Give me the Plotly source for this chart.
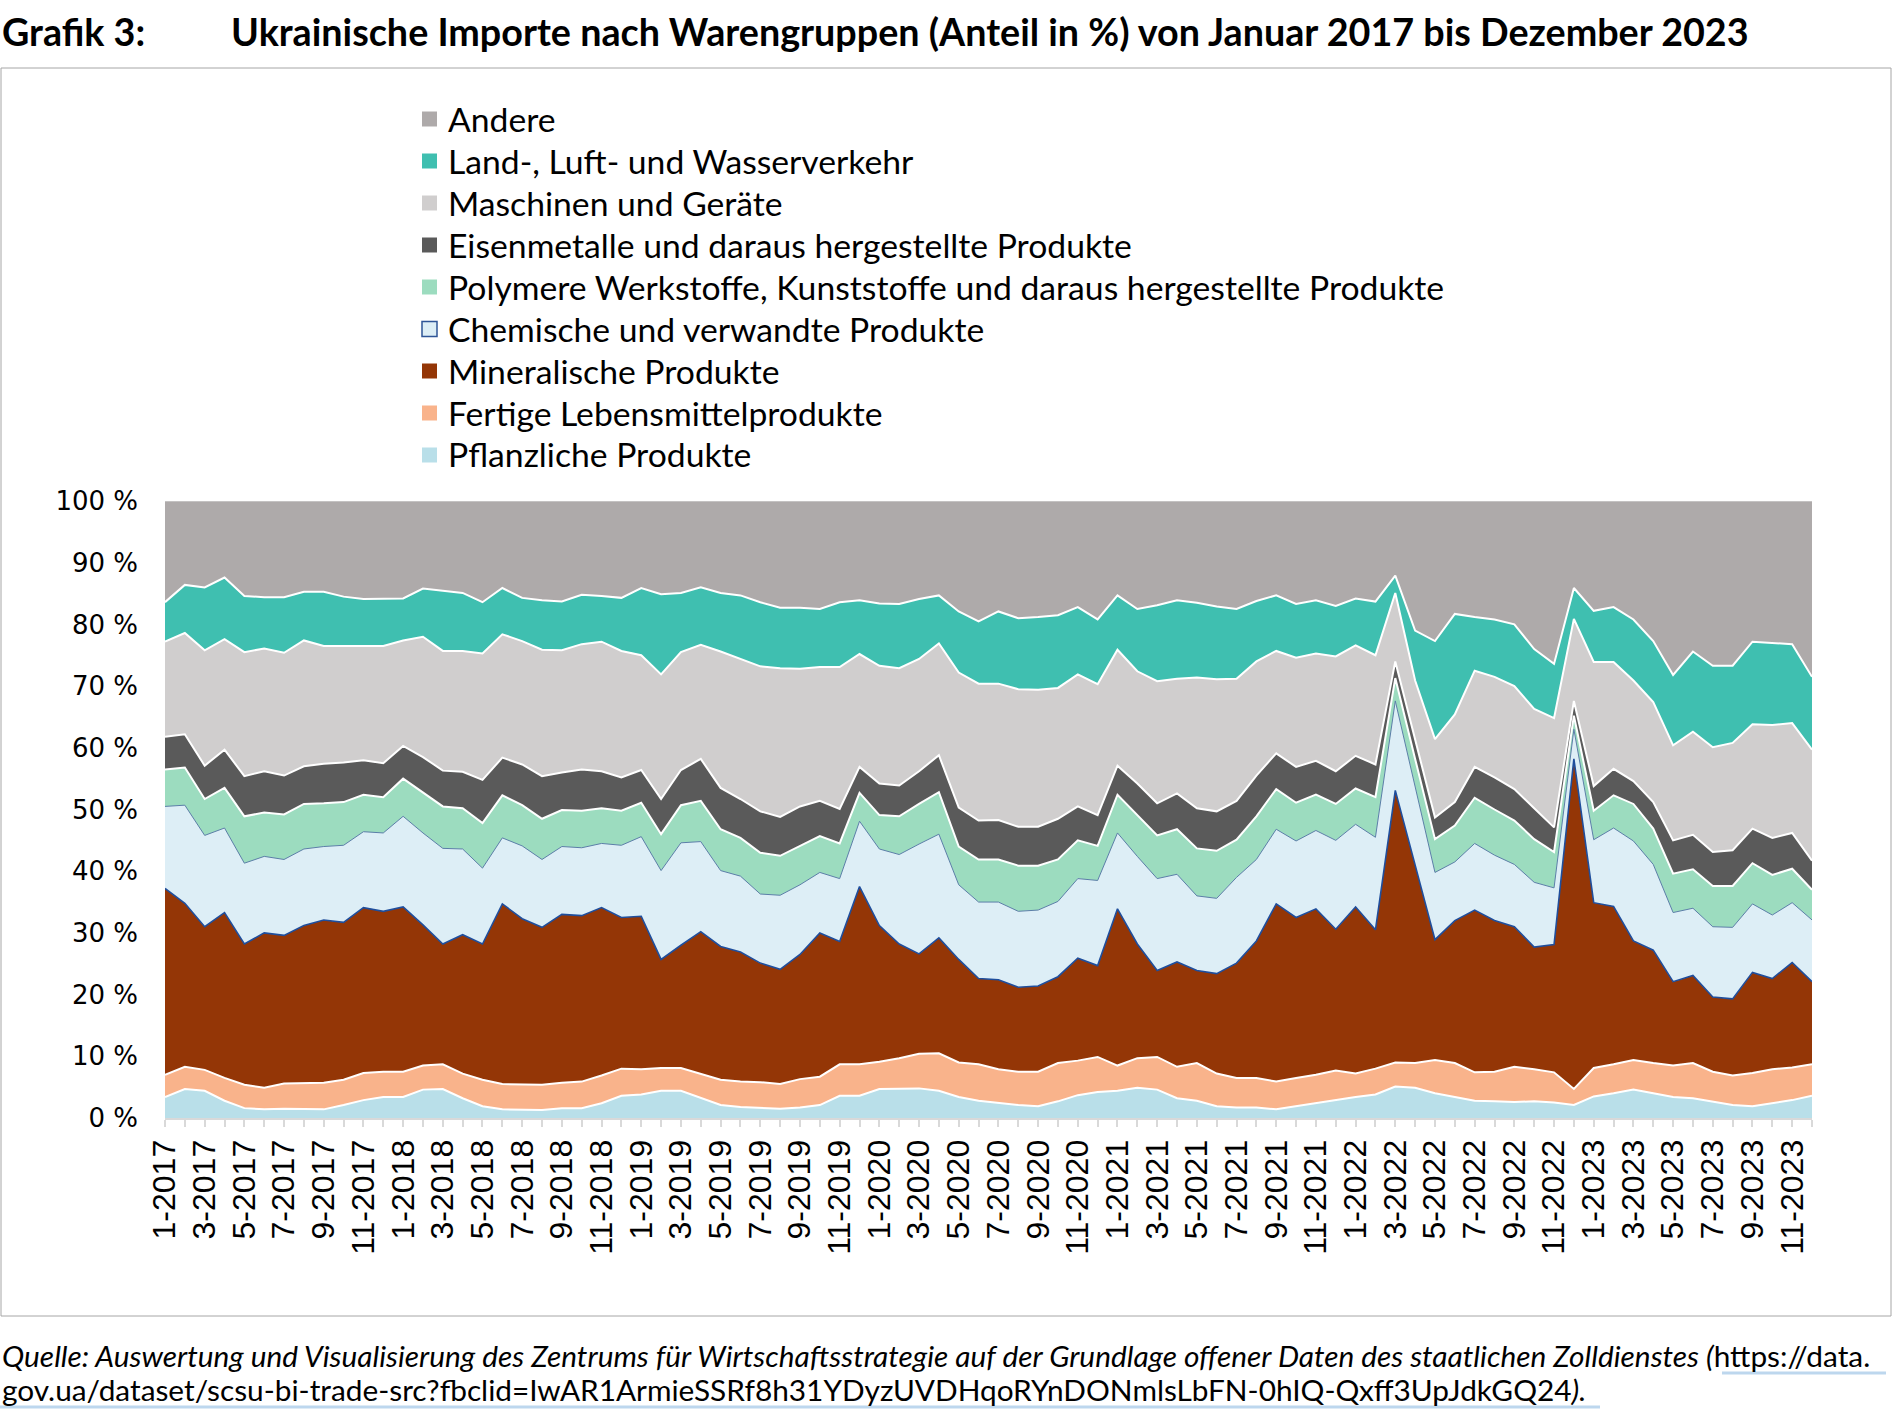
import plotly.graph_objects as go

months = [f"{m}-{y}" for y in range(2017, 2024) for m in range(1, 13)]
tick_text = [lab if i % 2 == 0 else "" for i, lab in enumerate(months)]

pflanzliche = [3.4,4.7,4.4,2.8,1.6,1.4,1.5,1.5,1.4,2.1,2.9,3.4,
               3.4,4.6,4.7,3.2,1.9,1.4,1.4,1.3,1.6,1.6,2.4,3.6,
               3.8,4.4,4.4,3.2,2.1,1.8,1.7,1.5,1.7,2.1,3.6,3.6,
               4.7,4.7,4.8,4.4,3.4,2.8,2.4,2.1,1.9,2.7,3.7,4.2,
               4.4,4.9,4.6,3.2,2.8,1.9,1.7,1.7,1.4,1.9,2.4,3.0,
               3.4,3.8,5.1,4.9,4.0,3.4,2.8,2.7,2.6,2.7,2.5,2.1,
               3.5,4.0,4.6,4.0,3.4,3.2,2.6,2.1,1.9,2.4,2.9,3.6]
lebensmittel = [3.6,3.6,3.4,3.7,3.8,3.5,4.1,4.1,4.3,4.1,4.4,4.1,
                4.1,3.9,4.0,4.0,4.3,4.1,4.1,4.1,4.1,4.3,4.5,4.4,
                4.1,3.7,3.7,4.0,4.1,4.1,4.1,4.0,4.6,4.6,5.1,5.1,
                4.4,5.0,5.6,6.1,5.6,5.9,5.5,5.4,5.6,6.2,5.6,5.7,
                4.1,4.8,5.3,5.1,6.1,5.3,4.8,4.8,4.5,4.6,4.6,4.7,
                3.8,4.2,3.9,4.0,5.4,5.5,4.6,4.8,5.7,5.2,4.9,2.6,
                4.6,4.7,4.8,4.9,5.1,5.7,4.9,4.8,5.4,5.5,5.3,5.1]
mineralische = [30.2,26.5,23.2,26.8,22.8,25.1,24.0,25.6,26.4,25.5,26.8,26.0,
                26.7,22.8,19.5,22.5,22.0,29.2,26.8,25.5,27.3,26.9,27.2,24.5,
                24.8,17.6,19.9,23.0,21.6,21.0,19.3,18.6,20.2,23.3,19.9,28.8,
                22.1,18.5,16.2,18.7,16.7,13.9,14.5,13.7,13.9,14.0,16.6,14.8,
                25.4,18.5,14.0,17.0,15.0,16.2,18.6,22.2,28.8,26.0,26.9,22.9,
                27.0,22.5,44.1,32.1,19.5,23.1,26.3,24.5,22.7,19.8,20.7,53.5,
                26.8,25.6,19.3,18.3,13.6,14.2,12.1,12.4,16.3,14.7,17.0,13.4]
chemische = [13.3,15.9,14.8,13.7,13.1,12.4,12.3,12.4,11.9,12.5,12.3,12.7,
             14.7,14.9,15.5,13.9,12.3,10.7,11.8,11.0,11.0,11.0,10.4,11.7,
             12.9,14.4,16.6,14.6,12.3,12.3,11.2,12.0,11.3,9.8,10.2,10.6,
             12.4,14.5,17.8,16.8,12.1,12.4,12.6,12.3,12.3,12.2,12.9,13.8,
             12.3,14.2,14.9,14.2,12.1,12.2,13.9,13.2,12.1,12.4,12.7,14.4,
             13.4,15.0,14.5,12.6,10.9,9.5,10.8,10.6,10.1,10.5,9.2,4.8,
             10.2,12.7,16.2,13.9,11.2,10.9,11.4,11.6,11.1,10.3,9.7,10.0]
polymere = [6.0,6.1,5.9,6.5,7.6,7.1,7.3,7.3,7.0,7.0,6.0,5.8,
            6.1,6.6,6.8,6.6,7.3,6.9,6.6,6.6,5.9,6.0,5.7,5.6,
            5.5,5.9,6.1,6.6,6.7,6.2,6.7,6.4,6.3,5.9,5.7,4.6,
            5.5,6.2,6.5,6.8,6.2,6.9,6.9,7.4,7.2,6.8,6.2,5.6,
            6.2,6.7,7.0,7.3,7.7,7.7,6.1,7.0,6.5,6.2,5.8,5.9,
            5.8,6.5,3.7,4.6,5.4,5.9,7.4,7.4,7.1,7.0,5.8,2.2,
            4.7,5.3,6.0,5.8,6.3,6.3,6.6,6.7,6.6,6.5,5.5,4.9]
eisenmetalle = [5.3,5.4,5.4,6.2,6.5,6.7,6.3,6.1,6.4,6.4,5.6,5.5,
                5.3,5.7,5.8,5.9,7.0,6.1,6.6,6.9,6.1,6.7,6.0,5.4,
                5.3,5.7,5.7,6.8,6.7,6.3,6.7,6.3,6.4,5.7,5.6,4.2,
                5.1,5.0,5.3,6.0,6.3,6.3,6.4,6.3,6.3,6.6,5.5,5.0,
                4.7,5.1,5.2,5.8,6.5,6.4,6.3,6.6,5.8,5.8,5.5,5.3,
                5.3,5.3,2.7,3.1,3.5,3.8,5.0,5.2,5.1,5.0,4.0,2.4,
                4.0,4.3,3.7,4.3,5.4,5.6,5.5,5.8,5.6,6.0,5.8,4.7]
maschinen = [15.4,16.4,18.7,17.9,20.1,19.9,19.9,20.4,19.1,18.9,18.5,19.0,
             17.1,19.5,19.4,19.6,20.5,20.0,20.0,20.5,19.8,20.3,21.0,20.5,
             18.6,20.2,19.1,18.5,22.1,22.7,23.5,24.1,22.3,21.7,23.0,18.3,
             19.1,19.0,18.2,18.1,21.9,22.2,22.1,22.3,22.2,21.2,21.4,21.2,
             18.8,18.2,19.8,18.6,21.2,21.4,19.8,18.5,16.6,17.7,17.4,18.6,
             17.9,17.7,11.1,9.6,12.7,14.2,15.6,16.3,16.7,16.1,17.7,13.3,
             20.1,17.3,16.3,16.2,15.4,16.7,17.0,17.4,16.9,18.3,17.8,18.0]
verkehr = [6.4,7.8,10.2,10.0,9.1,8.3,9.0,7.9,8.8,8.0,7.6,7.6,
           6.8,7.8,9.8,9.4,8.3,7.5,7.0,8.0,7.9,8.0,7.4,8.6,
           10.9,13.0,9.6,9.3,9.5,10.3,10.4,9.8,9.9,9.4,10.5,8.7,
           10.1,10.4,9.7,7.8,9.9,10.1,11.7,11.5,11.8,11.8,10.9,10.5,
           8.8,10.1,12.3,12.7,12.1,11.8,11.3,9.8,9.0,8.7,8.6,8.2,
           7.6,8.7,2.8,8.1,15.9,16.3,8.7,9.3,10.0,9.7,8.8,5.0,
           8.3,8.9,9.9,9.9,11.4,13.0,13.2,12.5,13.4,13.3,12.8,11.8]
andere = [16.4,13.6,14.0,12.4,15.4,15.6,15.6,14.7,14.7,15.5,15.9,15.9,
          15.8,14.2,14.5,14.9,16.4,14.1,15.7,16.1,16.3,15.2,15.4,15.7,
          14.1,15.1,14.9,14.0,14.9,15.3,16.4,17.3,17.3,17.5,16.4,16.1,
          16.6,16.7,15.9,15.3,17.9,19.5,17.9,19.0,18.8,18.5,17.2,19.2,
          15.3,17.5,16.9,16.1,16.5,17.1,17.5,16.2,15.3,16.7,16.1,17.0,
          15.8,16.3,12.1,21.0,22.7,18.3,18.8,19.2,20.0,24.0,26.4,14.1,
          17.8,17.2,19.2,22.7,28.2,24.4,26.7,26.7,22.8,23.0,23.2,28.5]

series = [
    ("Pflanzliche Produkte", pflanzliche, "#b9dfe9", "#ffffff", 2),
    ("Fertige Lebensmittelprodukte", lebensmittel, "#f9b38b", "#ffffff", 2),
    ("Mineralische Produkte", mineralische, "#943606", "#1f4e9c", 1.6),
    ("Chemische und verwandte Produkte", chemische, "#ddeef6", "#5b7ea8", 1),
    ("Polymere Werkstoffe, Kunststoffe und daraus hergestellte Produkte", polymere, "#9cdcbf", "#ffffff", 2),
    ("Eisenmetalle und daraus hergestellte Produkte", eisenmetalle, "#5a5a5a", "#ffffff", 2),
    ("Maschinen und Geräte", maschinen, "#d0cece", "#ffffff", 2),
    ("Land-, Luft- und Wasserverkehr", verkehr, "#3fbfb0", "#ffffff", 2),
    ("Andere", andere, "#aeaaaa", "#d9d9d9", 1),
]

fig = go.Figure()
for name, vals, fill, line, lw in series:
    fig.add_trace(go.Scatter(
        x=months, y=vals, name=name, stackgroup="one", mode="lines",
        fillcolor=fill, line=dict(color=line, width=lw),
        showlegend=False, hoverinfo="x+y+name"))

L, R, T, B = 165, 81, 501, 301
W, H = 1893, 1419
pw, ph = W - L - R, H - T - B

def px_x(x):
    return (x - L) / pw

def px_y(y):
    return (H - B - y) / ph

# manual legend (top: Andere ... bottom: Pflanzliche)
shapes = []
annotations = []
legend_top, legend_step = 118.5, 42.0
for k, (name, vals, fill, line, lw) in enumerate(reversed(series)):
    cy = legend_top + k * legend_step
    border = "#2f5597" if name.startswith("Chemische") else fill
    shapes.append(dict(type="rect", xref="paper", yref="paper",
                       x0=px_x(422), x1=px_x(437), y0=px_y(cy + 8), y1=px_y(cy - 7),
                       fillcolor=fill, line=dict(color=border, width=1.5 if border != fill else 0)))
    annotations.append(dict(text=name, xref="paper", yref="paper",
                            x=px_x(446), y=px_y(cy), xanchor="left", yanchor="middle",
                            showarrow=False, font=dict(family="Lato", size=33.7, color="#000")))

shapes += [
    dict(type="rect", xref="paper", yref="paper",
         x0=px_x(1), x1=px_x(1891), y0=px_y(1316), y1=px_y(68),
         line=dict(color="#a6a6a6", width=1), fillcolor="rgba(0,0,0,0)", layer="below"),
    dict(type="line", xref="paper", yref="paper",
         x0=px_x(1722), x1=px_x(1886), y0=px_y(1373), y1=px_y(1373),
         line=dict(color="#bdd7ee", width=3)),
    dict(type="line", xref="paper", yref="paper",
         x0=px_x(0), x1=px_x(1600), y0=px_y(1407), y1=px_y(1407),
         line=dict(color="#bdd7ee", width=3)),
]

annotations += [
    dict(text="<b>Grafik 3:</b>", xref="paper", yref="paper",
         x=px_x(0), y=px_y(31), xanchor="left", yanchor="middle",
         showarrow=False, font=dict(family="Lato", size=37.7, color="#000")),
    dict(text="<b>Ukrainische Importe nach Warengruppen (Anteil in %) von Januar 2017 bis Dezember 2023</b>",
         xref="paper", yref="paper",
         x=px_x(229), y=px_y(31), xanchor="left", yanchor="middle",
         showarrow=False, font=dict(family="Lato", size=37.7, color="#000")),
    dict(text="<i>Quelle: Auswertung und Visualisierung des Zentrums für Wirtschaftsstrategie auf der Grundlage offener Daten des staatlichen Zolldienstes (</i>https://data.",
         xref="paper", yref="paper",
         x=px_x(0), y=px_y(1355), xanchor="left", yanchor="middle",
         showarrow=False, font=dict(family="Lato", size=29.8, color="#000")),
    dict(text="gov.ua/dataset/scsu-bi-trade-src?fbclid=IwAR1ArmieSSRf8h31YDyzUVDHqoRYnDONmlsLbFN-0hIQ-Qxff3UpJdkGQ24<i>).</i>",
         xref="paper", yref="paper",
         x=px_x(0), y=px_y(1389), xanchor="left", yanchor="middle",
         showarrow=False, font=dict(family="Lato", size=29.8, color="#000")),
]

fig.update_layout(
    width=W, height=H,
    margin=dict(l=L, r=R, t=T, b=B),
    paper_bgcolor="white", plot_bgcolor="white",
    font=dict(family="Lato", color="#000000"),
    showlegend=False,
    xaxis=dict(type="category", range=[0, len(months) - 1],
               tickmode="array", tickvals=months, ticktext=tick_text,
               tickangle=-90, ticks="outside", ticklen=7, tickwidth=2,
               tickcolor="#d9d9d9", showline=True, linecolor="#d9d9d9",
               linewidth=2, showgrid=False, zeroline=False,
               tickfont=dict(family="Liberation Sans", size=32, color="#000")),
    yaxis=dict(range=[0, 100], tickmode="array",
               tickvals=[0, 10, 20, 30, 40, 50, 60, 70, 80, 90, 100],
               ticktext=[f"{v} %" for v in [0, 10, 20, 30, 40, 50, 60, 70, 80, 90, 100]],
               showgrid=False, zeroline=False, showline=False, ticks="",
               ticklabelstandoff=26,
               tickfont=dict(family="DejaVu Sans", size=26, color="#000")),
    shapes=shapes,
    annotations=annotations,
)

fig.write_html("out.html",
               config={"displayModeBar": False},
               post_script="document.body.style.margin='0px';document.body.style.padding='0px';document.body.style.overflow='hidden';")
